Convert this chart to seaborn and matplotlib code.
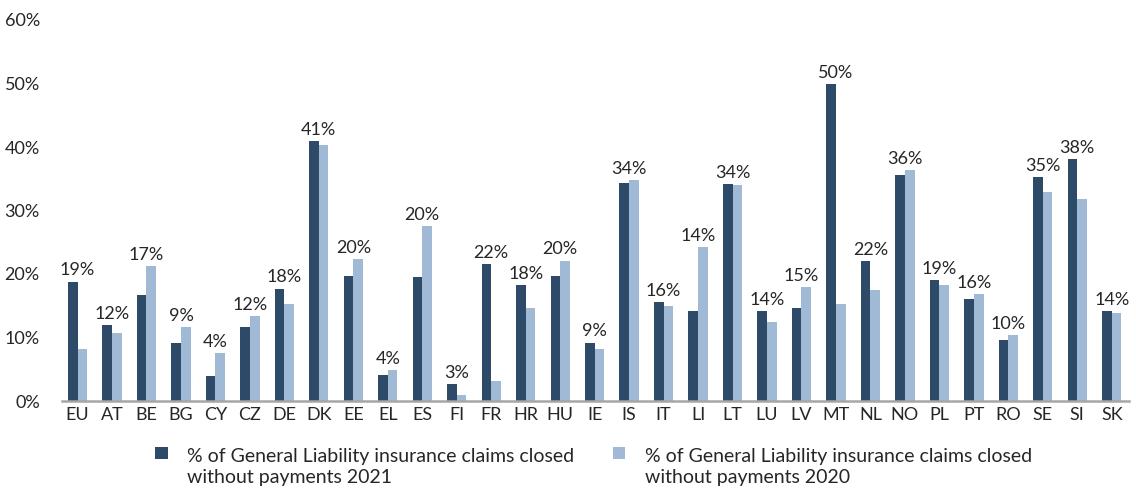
import matplotlib
matplotlib.use("Agg")
import matplotlib.pyplot as plt
from matplotlib.patches import Rectangle
from matplotlib.legend_handler import HandlerPatch
import seaborn as sns
import pandas as pd

countries = ["EU", "AT", "BE", "BG", "CY", "CZ", "DE", "DK", "EE", "EL",
             "ES", "FI", "FR", "HR", "HU", "IE", "IS", "IT", "LI", "LT",
             "LU", "LV", "MT", "NL", "NO", "PL", "PT", "RO", "SE", "SI", "SK"]

closed_2021 = [18.8, 12.0, 16.7, 9.2, 3.9, 11.6, 17.7, 40.9, 19.7, 4.1,
               19.6, 2.7, 21.6, 18.2, 19.7, 9.2, 34.3, 15.6, 14.1, 34.1,
               14.2, 14.7, 49.9, 22.0, 35.6, 19.1, 16.0, 9.6, 35.2, 38.1, 14.2]
closed_2020 = [8.2, 10.7, 21.2, 11.7, 7.6, 13.4, 15.3, 40.3, 22.4, 4.9,
               27.5, 0.9, 3.2, 14.7, 22.1, 8.2, 34.8, 15.0, 24.2, 34.0,
               12.5, 17.9, 15.3, 17.5, 36.3, 18.3, 16.9, 10.4, 32.9, 31.8, 13.9]

series_names = ["% of General Liability insurance claims closed\nwithout payments 2021",
                "% of General Liability insurance claims closed\nwithout payments 2020"]
colors = ["#2d4a69", "#a0b9d5"]
y_ticks = [0, 10, 20, 30, 40, 50, 60]

df = pd.DataFrame({
    "country": countries * 2,
    "value": closed_2021 + closed_2020,
    "series": [series_names[0]] * len(countries) + [series_names[1]] * len(countries),
})

sns.set_theme(style="white")
plt.rcParams["font.family"] = ["Lato", "DejaVu Sans"]
text_color = "#262626"

fig = plt.figure(figsize=(11.36, 4.92), dpi=100)
ax = fig.add_axes([62 / 1136, (492 - 401) / 492, 1067 / 1136, 381 / 492])

sns.barplot(data=df, x="country", y="value", hue="series", order=countries,
            hue_order=series_names, palette=colors, width=0.56, saturation=1,
            edgecolor="none", linewidth=0, ax=ax, legend=True)

ax.set_xlim(-0.45, len(countries) - 0.5)
ax.set_ylim(0, 60)
ax.set_yticks(y_ticks)
ax.set_yticklabels([f"{t}%" for t in y_ticks])
ax.set_xlabel("")
ax.set_ylabel("")
ax.tick_params(axis="both", length=0, labelsize=13, colors=text_color)
ax.tick_params(axis="y", pad=16)
ax.tick_params(axis="x", pad=4)

for side in ["top", "right", "left"]:
    ax.spines[side].set_visible(False)
ax.spines["bottom"].set_color("#a6a6a6")
ax.spines["bottom"].set_linewidth(1.8)

# value labels for 2021, placed above the taller bar of each pair
for i, (v21, v20) in enumerate(zip(closed_2021, closed_2020)):
    ax.text(i, max(v21, v20) + 0.5, f"{round(v21)}%", ha="center", va="bottom",
            fontsize=13, color=text_color)


def top_square(legend, orig_handle, xdescent, ydescent, width, height, fontsize):
    # square marker aligned with the first line of a two-line label
    return Rectangle((-xdescent, -ydescent + 0.75 * fontsize), width, height)


handles, labels = ax.get_legend_handles_labels()
ax.get_legend().remove()
leg = fig.legend(handles, labels, loc="center", bbox_to_anchor=(0.5225, 0.05), ncol=2,
                 frameon=False, fontsize=14, handlelength=0.62, handleheight=0.62,
                 handletextpad=1.0, columnspacing=2.0, labelcolor=text_color,
                 handler_map={Rectangle: HandlerPatch(patch_func=top_square)})
for t in leg.get_texts():
    t.set_linespacing(1.3)

fig.savefig("out.png", dpi=100)
